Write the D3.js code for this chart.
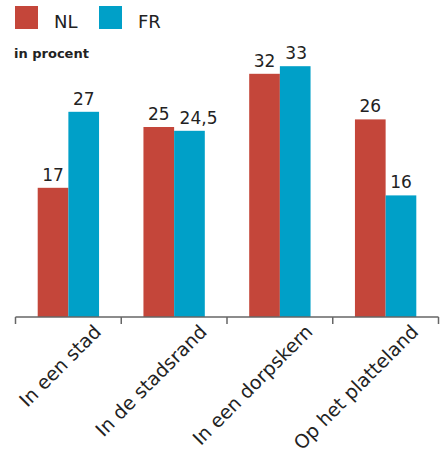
<!DOCTYPE html>
<html><head><meta charset="utf-8">
<script src="https://cdn.jsdelivr.net/npm/d3@7"></script>
<style>body{margin:0;background:#fff;} svg{display:block;}</style>
</head><body>
<svg id="c" width="440" height="457"></svg>
<script>
const categories = ["In een stad", "In de stadsrand", "In een dorpskern", "Op het platteland"];
const seriesNames = ["NL", "FR"];
const nlValues = [17, 25, 32, 26];
const frValues = [27, 24.5, 33, 16];
const valueLabels = [["17","25","32","26"],["27","24,5","33","16"]];
const colors = ["#c4463a", "#00a0c8"];
const unitLabel = "in procent";

const FONT = "'DejaVu Sans', sans-serif";
const svg = d3.select("#c");
const series = [nlValues, frValues];

const x = d3.scaleBand().domain(categories).range([15.5, 438.5]).paddingInner(0).paddingOuter(0);
const x1 = d3.scaleBand().domain(seriesNames).range([22.2, x.bandwidth() - 22.2]);
const y = d3.scaleLinear().domain([0, 35]).range([317, 317 - 35 * 7.6]);

// bars
const g = svg.append("g");
categories.forEach((c, i) => {
  seriesNames.forEach((s, j) => {
    const v = series[j][i];
    g.append("rect")
      .attr("x", x(c) + x1(s))
      .attr("y", y(v))
      .attr("width", x1.bandwidth())
      .attr("height", y(0) - y(v))
      .attr("fill", colors[j]);
  });
});
// value labels, nudging apart when neighbours would collide
categories.forEach((c, i) => {
  const texts = seriesNames.map((s, j) => {
    const v = series[j][i];
    return g.append("text")
      .attr("x", x(c) + x1(s) + x1.bandwidth() / 2)
      .attr("y", y(v) - 7)
      .attr("text-anchor", "middle")
      .attr("font-family", FONT)
      .attr("font-size", 17)
      .attr("fill", "#222")
      .text(valueLabels[j][i]);
  });
  const b0 = texts[0].node().getBBox(), b1 = texts[1].node().getBBox();
  const vOverlap = !(b0.y > b1.y + b1.height || b1.y > b0.y + b0.height);
  const gap = b1.x - (b0.x + b0.width);
  if (vOverlap && gap < 10) {
    texts[1].attr("x", +texts[1].attr("x") + (10 - gap));
  }
});

// axis
const axis = d3.axisBottom(x).tickSize(7).tickFormat("");
const ag = svg.append("g").attr("transform", "translate(0,317)").call(axis);
ag.select(".domain").remove();
ag.selectAll(".tick line").remove();
ag.append("line").attr("x1", 15.5).attr("x2", 438.5).attr("y1", 0).attr("y2", 0)
  .attr("stroke", "#666").attr("stroke-width", 1.5);
const edges = x.domain().map(d => x(d)).concat([x.range()[1]]);
ag.selectAll("line.edge").data(edges).enter().append("line")
  .attr("class", "edge")
  .attr("x1", d => d).attr("x2", d => d).attr("y1", 0).attr("y2", 7)
  .attr("stroke", "#666").attr("stroke-width", 1.5);

// category labels
svg.append("g").selectAll("text").data(categories).enter().append("text")
  .attr("transform", d => `translate(${x(d) + x.bandwidth() / 2 + 34},${333}) rotate(-45)`)
  .attr("text-anchor", "end")
  .attr("font-family", FONT)
  .attr("font-size", 19)
  .attr("fill", "#222")
  .text(d => d);

// legend
const leg = svg.append("g");
const legX = [15, 99];
seriesNames.forEach((s, j) => {
  leg.append("rect").attr("x", legX[j]).attr("y", 6).attr("width", 23).attr("height", 23).attr("fill", colors[j]);
  leg.append("text").attr("x", legX[j] + 39).attr("y", 28)
    .attr("font-family", FONT).attr("font-size", 18).attr("fill", "#222").text(s);
});
svg.append("text").attr("x", 14).attr("y", 58)
  .attr("font-family", FONT).attr("font-size", 13).attr("font-weight", "bold").attr("fill", "#222")
  .text(unitLabel);
</script>
</body></html>
